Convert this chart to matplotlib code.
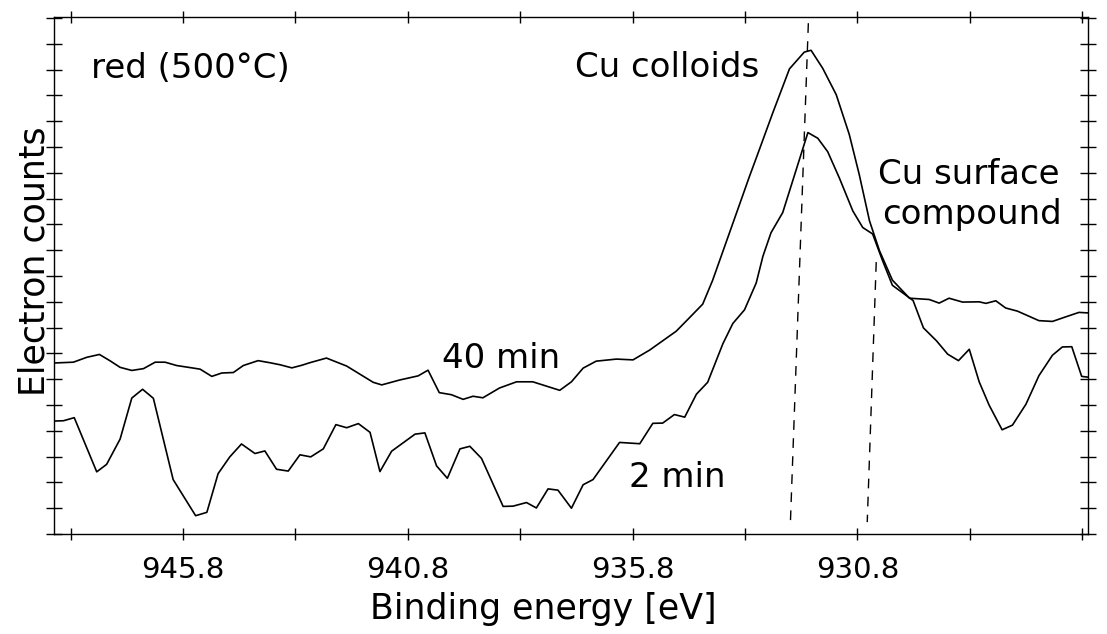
import matplotlib.pyplot as plt

# XPS Cu 2p3/2 region (arbitrary count units)
energy_40min = [948.65, 948.24, 947.94, 947.66, 947.42, 947.20, 946.94, 946.68, 946.42, 946.20,
                945.94, 945.64, 945.42, 945.16, 944.94, 944.68, 944.46, 944.13, 943.87, 943.64,
                943.38, 943.16, 942.98, 942.61, 942.16, 941.57, 941.38, 940.98, 940.57, 940.35,
                940.10, 939.83, 939.57, 939.35, 939.13, 938.76, 938.38, 938.02, 937.64, 937.42,
                937.16, 936.90, 936.61, 936.16, 935.79, 935.42, 934.83, 934.57, 934.24, 934.02,
                933.57, 933.20, 932.98, 932.68, 932.31, 931.98, 931.83, 931.57, 931.27, 930.98,
                930.76, 930.53, 930.31, 930.02, 929.64, 929.20, 928.98, 928.76, 928.46, 928.09,
                927.94, 927.72, 927.50, 927.24, 926.76, 926.46, 926.16, 925.87, 925.67]
counts_40min = [6.63, 6.66, 6.85, 6.96, 6.71, 6.46, 6.34, 6.41, 6.66, 6.66,
                6.53, 6.45, 6.39, 6.11, 6.24, 6.26, 6.53, 6.72, 6.64, 6.56,
                6.44, 6.54, 6.64, 6.82, 6.51, 5.88, 5.78, 5.97, 6.13, 6.35,
                5.48, 5.40, 5.22, 5.34, 5.28, 5.66, 5.90, 5.90, 5.69, 5.57,
                5.90, 6.43, 6.70, 6.78, 6.75, 7.13, 7.86, 8.32, 8.91, 9.83,
                12.04, 13.86, 14.90, 16.33, 18.03, 18.68, 18.75, 18.05, 17.03, 15.49,
                13.95, 12.14, 10.99, 9.84, 9.14, 9.09, 8.95, 9.14, 8.99, 9.00,
                8.94, 9.04, 8.76, 8.64, 8.27, 8.24, 8.42, 8.59, 8.57]

energy_2min = [948.65, 948.46, 948.22, 947.72, 947.50, 947.20, 946.94, 946.70, 946.46, 946.02,
               945.52, 945.27, 945.02, 944.76, 944.50, 944.20, 943.98, 943.72, 943.46, 943.20,
               942.96, 942.68, 942.40, 942.16, 941.90, 941.64, 941.42, 941.16, 940.64, 940.42,
               940.16, 939.92, 939.64, 939.42, 939.16, 938.68, 938.46, 938.16, 937.94, 937.68,
               937.46, 937.16, 936.90, 936.68, 936.09, 935.64, 935.35, 935.13, 934.87, 934.64,
               934.38, 934.13, 933.79, 933.57, 933.31, 933.05, 932.90, 932.72, 932.46, 932.20,
               931.90, 931.68, 931.46, 931.20, 930.90, 930.68, 930.46, 930.24, 930.02, 929.56,
               929.33, 929.04, 928.79, 928.55, 928.31, 928.09, 927.87, 927.58, 927.35, 927.05,
               926.76, 926.46, 926.24, 926.03, 925.81, 925.67]
counts_2min = [4.38, 4.39, 4.51, 2.41, 2.70, 3.68, 5.27, 5.61, 5.26, 2.11,
               0.71, 0.84, 2.34, 2.99, 3.49, 3.12, 3.22, 2.51, 2.44, 3.07,
               2.99, 3.30, 4.24, 4.12, 4.28, 3.94, 2.42, 3.21, 3.87, 3.92,
               2.64, 2.16, 3.30, 3.40, 2.93, 1.07, 1.08, 1.22, 1.01, 1.75,
               1.70, 1.00, 1.91, 2.11, 3.55, 3.50, 4.29, 4.30, 4.63, 4.53,
               5.42, 5.88, 7.38, 8.16, 8.69, 9.73, 10.77, 11.68, 12.46, 13.90,
               15.56, 15.34, 14.82, 13.80, 12.52, 11.88, 11.63, 10.60, 9.64, 9.05,
               7.99, 7.49, 6.97, 6.72, 7.16, 5.90, 5.00, 4.04, 4.22, 5.03,
               6.14, 6.93, 7.25, 7.26, 6.11, 6.08]

# hand-drawn dashed marker lines (top end, bottom end)
marker_top_energy = [931.89, 930.38]
marker_top_counts = [19.80, 10.54]
marker_bottom_energy = [932.29, 930.58]
marker_bottom_counts = [0.40, 0.46]

# annotations
label_texts = ["red (500°C)", "Cu colloids", "Cu surface", "compound", "40 min", "2 min"]
label_energy = [947.84, 937.07, 930.33, 930.24, 940.04, 935.87]
label_counts = [17.69, 17.72, 13.57, 12.03, 6.45, 1.83]

tick_energy = [948.3, 945.8, 943.3, 940.8, 938.3, 935.8, 933.3, 930.8, 928.3, 925.8]
tick_labels = ["", "945.8", "", "940.8", "", "935.8", "", "930.8", "", ""]


def main():
    fig = plt.figure(figsize=(11.07, 6.34), dpi=100)
    ax = fig.add_axes([0.0488, 0.1577, 0.934, 0.8155])

    ax.plot(energy_40min, counts_40min, color='black', lw=1.2)
    ax.plot(energy_2min, counts_2min, color='black', lw=1.2)

    for i in range(len(marker_top_energy)):
        ax.plot([marker_top_energy[i], marker_bottom_energy[i]],
                [marker_top_counts[i], marker_bottom_counts[i]],
                color='black', lw=1.0, linestyle=(0, (7, 6)))

    for txt, e, c in zip(label_texts, label_energy, label_counts):
        ax.text(e, c, txt, fontsize=24.5, ha='left', va='baseline')

    ax.set_xlim(948.67, 925.67)
    ax.set_ylim(0, 20.04)
    ax.set_xticks(tick_energy, labels=tick_labels)
    ax.set_yticks(range(0, 21))
    ax.set_yticklabels([])

    ax.tick_params(axis='x', direction='inout', length=9, width=1,
                   top=True, bottom=True, labelsize=21, pad=11)
    ax.tick_params(axis='y', direction='inout', length=11, width=1,
                   left=True, right=True)
    for s in ax.spines.values():
        s.set_linewidth(1.0)

    ax.set_xlabel('Binding energy [eV]', fontsize=25)
    ax.xaxis.set_label_coords(0.473, -0.112)
    ax.set_ylabel('Electron counts', fontsize=25)
    ax.yaxis.set_label_coords(-0.002, 0.528)

    fig.savefig('out.png', dpi=100)


if __name__ == "__main__":
    main()
